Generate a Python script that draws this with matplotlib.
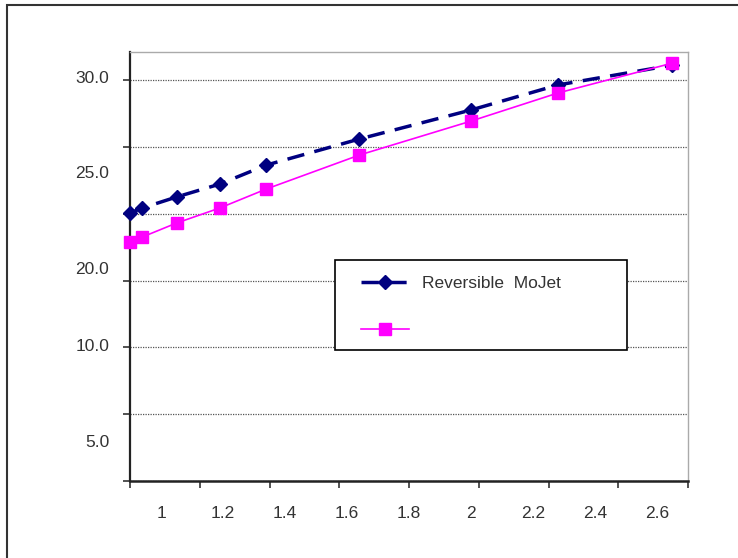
import numpy as np
import matplotlib.pyplot as plt
from matplotlib.patches import Rectangle
from matplotlib.lines import Line2D

# series
x_values = [0.90, 0.94, 1.05, 1.19, 1.34, 1.64, 2.00, 2.28, 2.65]
mojet = [20.05, 20.43, 21.25, 22.22, 23.64, 25.59, 27.76, 29.63, 31.12]
other = [17.88, 18.26, 19.30, 20.43, 21.85, 24.39, 26.93, 29.03, 31.27]

x_tick_marks = [0.9, 1.125, 1.35, 1.575, 1.8, 2.025, 2.25, 2.475, 2.7]
x_label_pos = [1.0, 1.2, 1.4, 1.6, 1.8, 2.0, 2.2, 2.4, 2.6]
x_labels = ["1", "1.2", "1.4", "1.6", "1.8", "2", "2.2", "2.4", "2.6"]

y_tick_marks = [0, 5, 10, 15, 20, 25, 30]
y_label_pos = [30.22, 23.12, 15.94, 10.17, 2.99]
y_labels = ["30.0", "25.0", "20.0", "10.0", "5.0"]

W, H = 738, 558
plt.rcParams["font.family"] = ["Liberation Sans", "DejaVu Sans"]
fig = plt.figure(figsize=(W / 100, H / 100), dpi=100)

# outer chart border (runs past right and bottom edges)
fig.patches.append(Rectangle((7 / W, -0.1), 1.2, 1.1 - 5 / H,
                             transform=fig.transFigure, fill=False,
                             edgecolor="#333333", lw=1.5))

ax = fig.add_axes([130 / W, 1 - 481 / H, 558 / W, 429 / H])
ax.xaxis.remove_overlapping_locs = False
ax.yaxis.remove_overlapping_locs = False

ax.plot(x_values, mojet, color="#000080", lw=2.5, dashes=(5, 3),
        marker="D", markersize=7, zorder=3, clip_on=False)
ax.plot(x_values, other, color="#FF00FF", lw=1.2,
        marker="s", markersize=8, zorder=3, clip_on=False)

ax.set_xlim(0.9, 2.7)
ax.set_ylim(0, 32.1)

ax.set_xticks(x_tick_marks, labels=[])
ax.set_xticks(x_label_pos, labels=x_labels, minor=True)
ax.set_yticks(y_tick_marks, labels=[])
ax.set_yticks(y_label_pos, labels=y_labels, minor=True)

ax.tick_params(which="major", length=5, width=1.2, color="#333333", direction="out")
ax.tick_params(which="minor", length=0, labelsize=12.5, labelcolor="#333333")
ax.tick_params(axis="x", which="minor", pad=18)
ax.tick_params(axis="y", which="minor", pad=15)

ax.grid(axis="y", which="major", color="#555555", lw=0.9, linestyle=(0, (1, 1)))
ax.set_axisbelow(True)

ax.spines["left"].set_color("#222222")
ax.spines["left"].set_linewidth(1.6)
ax.spines["bottom"].set_color("#222222")
ax.spines["bottom"].set_linewidth(1.8)
for side in ("top", "right"):
    ax.spines[side].set_color("#aaaaaa")
    ax.spines[side].set_linewidth(1.0)

# legend box
fig.patches.append(Rectangle((335 / W, 1 - 350 / H), 292 / W, 90 / H,
                             transform=fig.transFigure, facecolor="white",
                             edgecolor="black", lw=1.2, zorder=5))
handles = [
    Line2D([], [], color="#000080", lw=2.5, dashes=(5, 3), marker="D", markersize=7),
    Line2D([], [], color="#FF00FF", lw=1.2, marker="s", markersize=8),
]
leg = fig.legend(handles, ["Reversible  MoJet", ""], loc="upper left",
                 bbox_to_anchor=(352 / W, 1 - 267 / H), frameon=False,
                 handlelength=2.8, handletextpad=0.75, labelspacing=1.85,
                 fontsize=12.5, borderpad=0)
for t in leg.get_texts():
    t.set_color("#333333")
leg.set_zorder(6)

fig.savefig("out.png", dpi=100)
